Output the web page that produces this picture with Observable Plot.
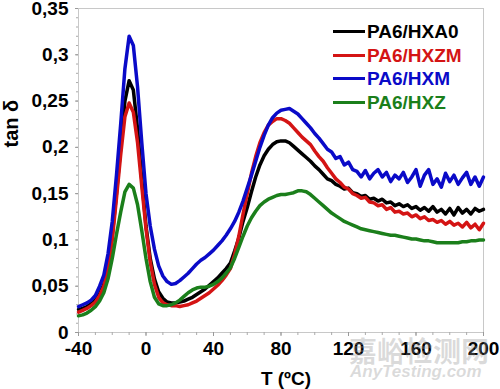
<!DOCTYPE html>
<html><head><meta charset="utf-8">
<script src="https://cdn.jsdelivr.net/npm/d3@7"></script>
<script src="https://cdn.jsdelivr.net/npm/@observablehq/plot@0.6"></script>
<style>
body{margin:0;background:#fff;}
#wrap{position:relative;width:500px;height:389px;font-family:"Liberation Sans",Arial,sans-serif;font-weight:bold;}
#legend{position:absolute;left:333px;top:20px;font-size:19px;line-height:23.5px;}
.row{display:flex;align-items:center;white-space:nowrap;}
.sw{width:32px;height:3px;margin-right:2px;}
#wm1{position:absolute;left:349px;top:330px;font-family:"Noto Sans CJK SC";font-size:28px;color:rgba(150,150,150,0.35);letter-spacing:0px;}
#wm2{position:absolute;left:350px;top:362px;font-size:17px;font-style:italic;color:rgba(150,150,150,0.35);}
</style></head>
<body><div id="wrap"></div>
<script>
const T = [-40,-37.5,-35,-32.5,-30,-27.5,-25,-22.5,
-20,-17.5,-15,-12.5,-10,-7.5,-5,-2.5,
0,2.5,5,7.5,10,12.5,15,17.5,
20,22.5,25,27.5,30,32.5,35,37.5,
40,42.5,45,47.5,50,52.5,55,57.5,
60,62.5,65,67.5,70,72.5,75,77.5,
80,82.5,85,87.5,90,92.5,95,97.5,
100,102.5,105,107.5,110,112.5,115,117.5,
120,122.5,125,127.5,130,132.5,135,137.5,
140,142.5,145,147.5,150,152.5,155,157.5,
160,162.5,165,167.5,170,172.5,175,177.5,
180,182.5,185,187.5,190,192.5,195,197.5,
200];

const hxa0 = [0.025,0.026,0.028,0.031,0.035,0.042,0.052,0.072,
0.105,0.150,0.200,0.250,0.272,0.262,0.220,0.165,
0.115,0.080,0.058,0.044,0.037,0.033,0.032,0.032,
0.033,0.034,0.036,0.038,0.041,0.044,0.047,0.051,
0.055,0.059,0.064,0.069,0.075,0.088,0.102,0.120,
0.135,0.152,0.168,0.181,0.191,0.198,0.203,0.206,
0.207,0.207,0.205,0.201,0.197,0.193,0.189,0.185,
0.180,0.176,0.171,0.166,0.164,0.160,0.158,0.155,
0.156,0.151,0.150,0.147,0.148,0.144,0.145,0.142,
0.144,0.140,0.141,0.137,0.139,0.136,0.138,0.134,
0.136,0.132,0.135,0.131,0.136,0.130,0.133,0.128,
0.134,0.127,0.135,0.129,0.133,0.128,0.134,0.131,
0.133];

const hxzm = [0.022,0.024,0.026,0.029,0.033,0.040,0.050,0.070,
0.100,0.145,0.192,0.233,0.248,0.238,0.205,0.158,
0.112,0.076,0.052,0.038,0.032,0.030,0.029,0.029,
0.028,0.029,0.030,0.032,0.034,0.037,0.040,0.043,
0.047,0.051,0.056,0.062,0.069,0.084,0.104,0.128,
0.150,0.172,0.190,0.205,0.216,0.224,0.228,0.231,
0.231,0.229,0.226,0.221,0.216,0.211,0.207,0.203,
0.196,0.190,0.185,0.178,0.172,0.166,0.162,0.157,
0.155,0.150,0.148,0.145,0.146,0.141,0.140,0.137,
0.138,0.133,0.135,0.130,0.131,0.128,0.129,0.125,
0.127,0.123,0.125,0.121,0.122,0.119,0.121,0.117,
0.120,0.116,0.118,0.114,0.119,0.113,0.117,0.111,
0.118];

const hxm = [0.028,0.030,0.032,0.035,0.040,0.050,0.062,0.085,
0.120,0.170,0.225,0.285,0.320,0.310,0.265,0.205,
0.150,0.115,0.090,0.072,0.061,0.055,0.052,0.053,
0.056,0.060,0.064,0.069,0.074,0.078,0.081,0.085,
0.089,0.094,0.099,0.105,0.112,0.120,0.130,0.142,
0.156,0.170,0.185,0.200,0.213,0.224,0.232,0.237,
0.240,0.241,0.242,0.239,0.236,0.231,0.226,0.221,
0.215,0.210,0.204,0.198,0.195,0.188,0.190,0.181,
0.184,0.176,0.174,0.168,0.175,0.166,0.172,0.176,
0.168,0.173,0.163,0.170,0.166,0.173,0.162,0.168,
0.176,0.158,0.170,0.176,0.160,0.166,0.157,0.172,
0.163,0.170,0.160,0.167,0.173,0.160,0.168,0.158,
0.168];

const hxz = [0.018,0.019,0.021,0.024,0.028,0.034,0.043,0.058,
0.080,0.106,0.130,0.152,0.160,0.156,0.138,0.110,
0.080,0.055,0.038,0.031,0.029,0.029,0.030,0.032,
0.035,0.039,0.043,0.046,0.048,0.049,0.049,0.050,
0.052,0.055,0.059,0.064,0.070,0.080,0.092,0.104,
0.115,0.124,0.131,0.137,0.141,0.144,0.146,0.148,
0.149,0.149,0.150,0.151,0.153,0.153,0.152,0.149,
0.145,0.141,0.137,0.133,0.129,0.126,0.123,0.120,
0.118,0.116,0.114,0.112,0.111,0.110,0.109,0.108,
0.107,0.106,0.105,0.105,0.104,0.103,0.102,0.101,
0.101,0.100,0.099,0.099,0.098,0.097,0.097,0.097,
0.097,0.097,0.097,0.098,0.098,0.099,0.099,0.100,
0.100];

const seriesNames = ["PA6/HXA0","PA6/HXZM","PA6/HXM","PA6/HXZ"];
const seriesColors = ["#000000","#d41414","#0a0ac8","#1b7f1b"];
const seriesValues = [hxa0, hxzm, hxm, hxz];

const xTicks = [-40,0,40,80,120,160,200];
const xTickLabels = ["-40","0","40","80","120","160","200"];
const yTicks = [0,0.05,0.1,0.15,0.2,0.25,0.3,0.35];
const yTickLabels = ["0","0,05","0,1","0,15","0,2","0,25","0,3","0,35"];
const xLabel = "T (ºC)";
const yLabel = "tan δ";
const xMinor = d3.range(-40, 201, 10);
const yMinor = d3.range(0, 36, 1).map(d => d / 100);

const data = [];
seriesValues.forEach((vals, k) => vals.forEach((v, i) => data.push({T: T[i], v, s: seriesNames[k]})));

const chart = Plot.plot({
  width: 500, height: 389,
  marginLeft: 78, marginRight: 17, marginTop: 8, marginBottom: 57,
  style: {fontFamily: "Liberation Sans, Arial, sans-serif", fontWeight: "bold", background: "white", color: "black", overflow: "visible"},
  x: {domain: [-40, 200]},
  y: {domain: [0, 0.35]},
  color: {domain: seriesNames, range: seriesColors},
  marks: [
    Plot.frame({stroke: "#c8c8c8"}),
    Plot.axisX(xMinor, {tickSize: 3, stroke: "#aaa", tickFormat: () => "", label: null}),
    Plot.axisY(yMinor, {tickSize: 2, stroke: "#aaa", tickFormat: () => "", label: null}),
    Plot.axisX(xTicks, {tickSize: 4, tickPadding: 5, stroke: "#999", fill: "black", fontSize: 19,
      tickFormat: d => xTickLabels[xTicks.indexOf(d)], label: null}),
    Plot.axisY(yTicks, {tickSize: 3, tickPadding: 7, stroke: "#999", fill: "black", fontSize: 19,
      tickFormat: d => yTickLabels[yTicks.indexOf(d)], label: null}),
    Plot.text([xLabel], {frameAnchor: "bottom", dx: 5, dy: 46, lineAnchor: "middle", fontSize: 19, fill: "black"}),
    Plot.text([yLabel], {frameAnchor: "left", rotate: -90, dx: -67, dy: -23, lineAnchor: "middle", fontSize: 20, fill: "black"}),
    Plot.line(data, {x: "T", y: "v", z: "s", stroke: "s", strokeWidth: 3.5})
  ]
});

const wrap = document.getElementById("wrap");
wrap.appendChild(chart);

const legend = document.createElement("div");
legend.id = "legend";
seriesNames.forEach((n, i) => {
  const row = document.createElement("div");
  row.className = "row";
  const sw = document.createElement("div");
  sw.className = "sw";
  sw.style.background = seriesColors[i];
  const tx = document.createElement("span");
  tx.textContent = n;
  tx.style.color = seriesColors[i];
  row.appendChild(sw); row.appendChild(tx);
  legend.appendChild(row);
});
wrap.appendChild(legend);

const wm1 = document.createElement("div"); wm1.id = "wm1"; wm1.textContent = "嘉峪检测网";
const wm2 = document.createElement("div"); wm2.id = "wm2"; wm2.textContent = "AnyTesting.com";
wrap.appendChild(wm1); wrap.appendChild(wm2);
</script>
</body></html>
